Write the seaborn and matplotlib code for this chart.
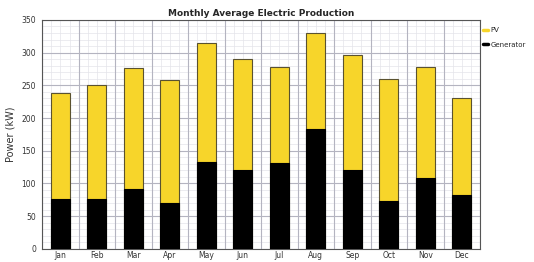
import pandas as pd
import numpy as np
import matplotlib
matplotlib.use("Agg")
import matplotlib.pyplot as plt
import seaborn as sns
from matplotlib.ticker import MultipleLocator
from matplotlib.lines import Line2D

months = ["Jan", "Feb", "Mar", "Apr", "May", "Jun", "Jul", "Aug", "Sep", "Oct", "Nov", "Dec"]
generator = [77, 77, 91, 70, 133, 121, 132, 183, 121, 73, 108, 82]
pv = [161, 174, 185, 188, 181, 169, 146, 147, 175, 187, 170, 148]

df = pd.DataFrame({"Month": months, "Generator": generator, "PV": pv})
df["Total"] = df["Generator"] + df["PV"]

sns.set_style("white")
plt.rcParams["font.family"] = ["DejaVu Sans"]

fig = plt.figure(figsize=(5.34, 2.62), dpi=100)
ax = fig.add_axes([0.079, 0.05, 0.820, 0.874])

sns.barplot(data=df, x="Month", y="Total", color="#F7D52A", width=0.52,
            edgecolor="#5a5230", linewidth=0.8, saturation=1, ax=ax, zorder=3)
sns.barplot(data=df, x="Month", y="Generator", color="#000000", width=0.52,
            edgecolor="#000000", linewidth=0.8, saturation=1, ax=ax, zorder=4)

ax.set_ylim(0, 350)
ax.set_xlim(-0.5, 11.5)
ax.yaxis.set_major_locator(MultipleLocator(50))
ax.yaxis.set_minor_locator(MultipleLocator(10))
ax.set_xticks(np.arange(-0.5, 12, 1), minor=True)
ax.set_xticks(np.arange(0, 12, 1))
ax.set_xticklabels(months)

# grid: faint minor lines, darker category/major lines
for x in np.arange(-0.5, 12, 0.25):
    ax.axvline(x, color="#e4e4ea", lw=0.5, zorder=0)
for y in range(0, 351, 10):
    ax.axhline(y, color="#e4e4ea", lw=0.5, zorder=0)
for x in np.arange(-0.5, 12, 1):
    ax.axvline(x, color="#b4b4c0", lw=0.8, zorder=1)
for y in range(0, 351, 50):
    ax.axhline(y, color="#b4b4c0", lw=0.8, zorder=1)

for s in ax.spines.values():
    s.set_color("#555555")
    s.set_linewidth(0.8)

ax.tick_params(axis="both", which="major", labelsize=5.5, length=3, width=0.6,
               colors="#333333", pad=1.5)
ax.tick_params(axis="x", which="major", length=0)
ax.tick_params(axis="x", which="minor", length=3, width=0.6)
ax.tick_params(axis="y", which="minor", length=0)

ax.set_xlabel("")
ax.set_ylabel("Power (kW)", fontsize=7, color="#333333", labelpad=4)
ax.set_title("Monthly Average Electric Production", fontsize=6.5,
             fontweight="bold", pad=3)

handles = [Line2D([0], [0], color="#F7D52A", lw=2.5),
           Line2D([0], [0], color="#000000", lw=2.5)]
ax.legend(handles, ["PV", "Generator"], loc="upper left",
          bbox_to_anchor=(1.0, 0.98), frameon=False, fontsize=5,
          handlelength=0.8, handletextpad=0.3, labelspacing=1.2,
          borderaxespad=0.2, borderpad=0.2)

fig.savefig("out.png", dpi=100)
